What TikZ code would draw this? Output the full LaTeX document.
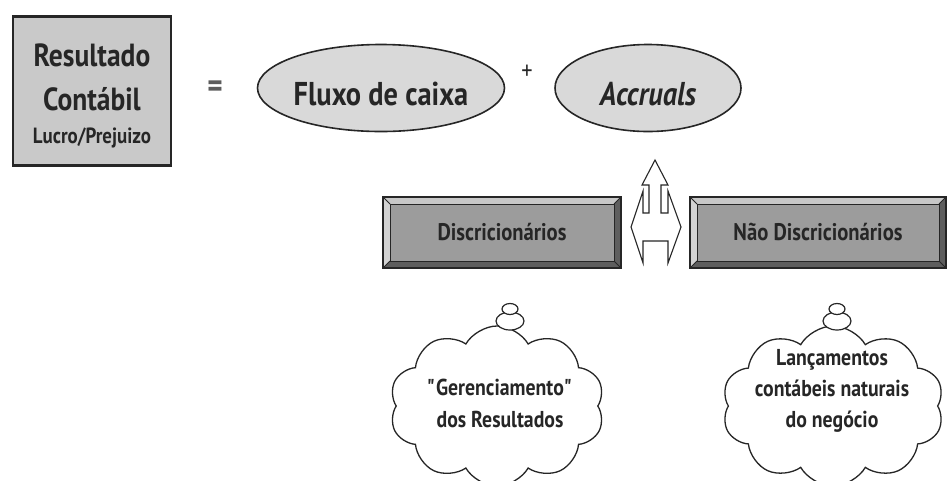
\documentclass[tikz,border=0pt]{standalone}
\usepackage{fontspec}
\setmainfont{PT Sans}[FakeStretch=0.86]
\usetikzlibrary{shapes.geometric,shapes.symbols}
\definecolor{ink}{HTML}{262626}
\definecolor{boxgray}{HTML}{C9C9C9}
\definecolor{ellgray}{HTML}{D9D9D9}
\definecolor{bevmid}{HTML}{9C9C9C}
\definecolor{bevlight}{HTML}{C8C8C8}
\definecolor{bevdark}{HTML}{5E5E5E}
\tikzset{
  txt/.style={text=ink,font=\bfseries,inner sep=0pt},
  oval/.style={ellipse,draw=ink,line width=1.6pt,fill=ellgray,inner sep=0pt},
  thought/.style={cloud,cloud puffs=10,cloud puff arc=120,aspect=1.4,draw=ink,line width=1.3pt,fill=white,inner sep=0pt},
  bubble/.style={ellipse,draw=ink,line width=1.2pt,fill=white,inner sep=0pt},
}
\newcommand{\bevelbox}[5]{% x1 y1 x2 y2 inset
  \fill[bevlight] (#1,#2) -- (#3,#2) -- (#3-#5,#2+#5) -- (#1+#5,#2+#5) -- cycle;
  \fill[bevlight!80!white] (#1,#2) -- (#1+#5,#2+#5) -- (#1+#5,#4-#5) -- (#1,#4) -- cycle;
  \fill[bevdark] (#3,#2) -- (#3,#4) -- (#3-#5,#4-#5) -- (#3-#5,#2+#5) -- cycle;
  \fill[bevdark] (#1,#4) -- (#3,#4) -- (#3-#5,#4-#5) -- (#1+#5,#4-#5) -- cycle;
  \fill[bevmid] (#1+#5,#2+#5) rectangle (#3-#5,#4-#5);
  \draw[ink,line width=0.8pt] (#1+#5,#2+#5) rectangle (#3-#5,#4-#5);
  \draw[ink,line width=0.8pt] (#1,#2) -- (#1+#5,#2+#5) (#3,#2) -- (#3-#5,#2+#5) (#1,#4) -- (#1+#5,#4-#5) (#3,#4) -- (#3-#5,#4-#5);
  \draw[ink,line width=1.8pt] (#1,#2) rectangle (#3,#4);
}
\begin{document}
\begin{tikzpicture}[x=1pt,y=-1pt]
\useasboundingbox[fill=white] (0,0) rectangle (949,480);

% Resultado box
\node[draw=ink,line width=2.6pt,fill=boxgray,minimum width=158pt,minimum height=149pt,inner sep=0pt] (res) at (92,91) {};
\node[txt,font=\bfseries\fontsize{32}{34}\selectfont,anchor=base] (res1) at (92,66) {Resultado};
\node[txt,font=\bfseries\fontsize{32}{34}\selectfont,anchor=base] (res2) at (92,110) {Contábil};
\node[txt,font=\bfseries\fontsize{22}{24}\selectfont,anchor=base] (res3) at (92,143) {Lucro/Prejuizo};

\node[text=ink!75,font=\bfseries\fontsize{34}{34}\selectfont,inner sep=0pt] (eq) at (215,89) {=};

% ellipses
\node[oval,minimum width=247pt,minimum height=87pt] (fluxo) at (381,88) {};
\node[txt,font=\bfseries\fontsize{33}{36}\selectfont,anchor=base] (fluxot) at (381,105) {Fluxo de caixa};
\node[text=ink,font=\fontsize{26}{26}\selectfont,inner sep=0pt] (plus) at (527,72) {+};
\node[oval,minimum width=186pt,minimum height=87pt] (accr) at (648,88) {};
\node[txt,font=\bfseries\itshape\fontsize{33}{36}\selectfont,anchor=base] (accrt) at (648,105) {Accruals};

% three-way arrow
\coordinate (ar) at (655,227);
\draw[ink,line width=1.1pt,fill=white,line join=miter]
  (655,160) -- (668,185) -- (661,185) -- (661,213) -- (668,213) -- (668,191)
  -- (681,227) -- (668,263) -- (668,241) -- (643,241) -- (643,263)
  -- (631,227) -- (643,191) -- (643,213) -- (649,213) -- (649,185) -- (642,185) -- cycle;

% bevel boxes
\bevelbox{383}{197}{621}{268}{7}
\node[txt,font=\bfseries\fontsize{24}{26}\selectfont] (disc) at (502,232) {Discricionários};
\bevelbox{690}{197}{946}{268}{7}
\node[txt,font=\bfseries\fontsize{24}{26}\selectfont] (ndisc) at (818,232) {Não Discricionários};

% clouds
\node[thought,minimum width=215pt,minimum height=160pt] (c1) at (497,406) {};
\node[bubble,minimum width=28pt,minimum height=18pt] (b1a) at (510,321) {};
\node[bubble,minimum width=16pt,minimum height=11pt] (b1b) at (510,309) {};
\node[txt,font=\bfseries\fontsize{23}{32}\selectfont,align=center] (c1t) at (500,403) {\textquotedbl Gerenciamento\textquotedbl\\dos Resultados};

\node[thought,minimum width=222pt,minimum height=160pt] (c2) at (833,406) {};
\node[bubble,minimum width=28pt,minimum height=18pt] (b2a) at (837,321) {};
\node[bubble,minimum width=16pt,minimum height=11pt] (b2b) at (837,309) {};
\node[txt,font=\bfseries\fontsize{23}{31}\selectfont,align=center] (c2t) at (832,391) {Lançamentos\\contábeis naturais\\do negócio};
\end{tikzpicture}
\end{document}
